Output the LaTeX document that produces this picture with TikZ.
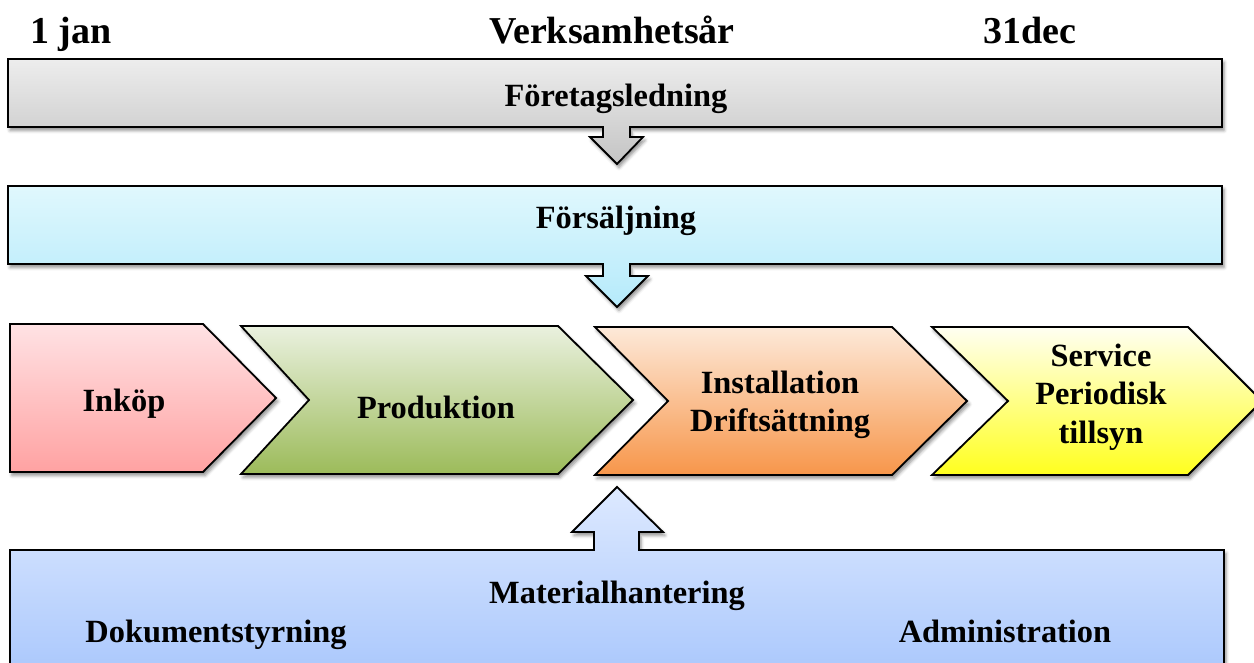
\documentclass[tikz,border=0pt]{standalone}
\usepackage{fontspec}
\setmainfont{Liberation Serif}
\usetikzlibrary{shadows.blur}
\definecolor{grayT}{HTML}{EDEDED}\definecolor{grayB}{HTML}{C4C4C4}
\definecolor{cyanT}{HTML}{E0F8FD}\definecolor{cyanB}{HTML}{B5EAFB}
\definecolor{redT}{HTML}{FFE2E4}\definecolor{redB}{HTML}{FFA2A2}
\definecolor{grnT}{HTML}{EAF1DF}\definecolor{grnB}{HTML}{9CBB5A}
\definecolor{orgT}{HTML}{FDE9D9}\definecolor{orgB}{HTML}{F7964A}
\definecolor{yelT}{HTML}{FFFFF2}\definecolor{yelB}{HTML}{FFFF1E}
\definecolor{bluT}{HTML}{DDE9FF}\definecolor{bluB}{HTML}{A6C5FC}
\begin{document}
\begin{tikzpicture}[x=0.75pt,y=-0.75pt,
  lbl/.style={font=\bfseries\fontsize{24.3}{28.8}\selectfont, align=center, inner sep=0pt},
  ttl/.style={font=\bfseries\fontsize{28.5}{33}\selectfont, inner sep=0pt},
  box/.style={draw=black, line width=1.35pt, line join=miter,
    blur shadow={shadow xshift=1.5pt, shadow yshift=-2.5pt, shadow blur radius=2.5pt, shadow opacity=45}},
]
\useasboundingbox (0,0) rectangle (1254,663);
\clip (0,0) rectangle (1254,663);

% titles
\node[ttl, anchor=base west] (jan) at (30,44) {1 jan};
\node[ttl, anchor=base] (year) at (612,44) {Verksamhetsår};
\node[ttl, anchor=base] (dec) at (1030,44) {31dec};

% Företagsledning bar with down arrow
\path[box, top color=grayT, bottom color=grayB]
  (8,59) -- (1222,59) -- (1222,127) -- (630,127) -- (630,137) -- (643,137)
  -- (617,164) -- (590,137) -- (603,137) -- (603,127) -- (8,127) -- cycle;
\node[lbl] (lead) at (616,99) {Företagsledning};

% Försäljning bar with down arrow
\path[box, top color=cyanT, bottom color=cyanB]
  (8,186) -- (1222,186) -- (1222,264) -- (630,264) -- (630,276) -- (648,276)
  -- (617,307) -- (586,276) -- (603,276) -- (603,264) -- (8,264) -- cycle;
\node[lbl] (sales) at (616,221) {Försäljning};

% chevrons
\path[box, top color=redT, bottom color=redB]
  (10,324) -- (203,324) -- (276,398) -- (203,472) -- (10,472) -- cycle;
\node[lbl] (buy) at (124,404) {Inköp};

\path[box, top color=grnT, bottom color=grnB]
  (241,326) -- (558,326) -- (633,400) -- (558,474) -- (241,474) -- (309,400) -- cycle;
\node[lbl] (prod) at (436,407) {Produktion};

\path[box, top color=orgT, bottom color=orgB]
  (595,327) -- (892,327) -- (967,401) -- (892,475) -- (595,475) -- (668,401) -- cycle;
\node[lbl] (inst) at (780,405) {Installation\\Driftsättning};

\path[box, top color=yelT, bottom color=yelB]
  (932,327) -- (1188,327) -- (1262,401) -- (1188,475) -- (932,475) -- (1008,401) -- cycle;
\node[lbl] (serv) at (1101,397) {Service\\Periodisk\\tillsyn};

% bottom box with up arrow
\path[box, top color=bluT, bottom color=bluB]
  (10,690) -- (10,550) -- (594,550) -- (594,532) -- (572,532) -- (617,487)
  -- (663,532) -- (639,532) -- (639,550) -- (1224,550) -- (1224,690) -- cycle;
\node[lbl, anchor=base] (mat) at (617,603) {Materialhantering};
\node[lbl, anchor=base] (doc) at (216,642) {Dokumentstyrning};
\node[lbl, anchor=base] (adm) at (1005,642) {Administration};
\end{tikzpicture}
\end{document}
